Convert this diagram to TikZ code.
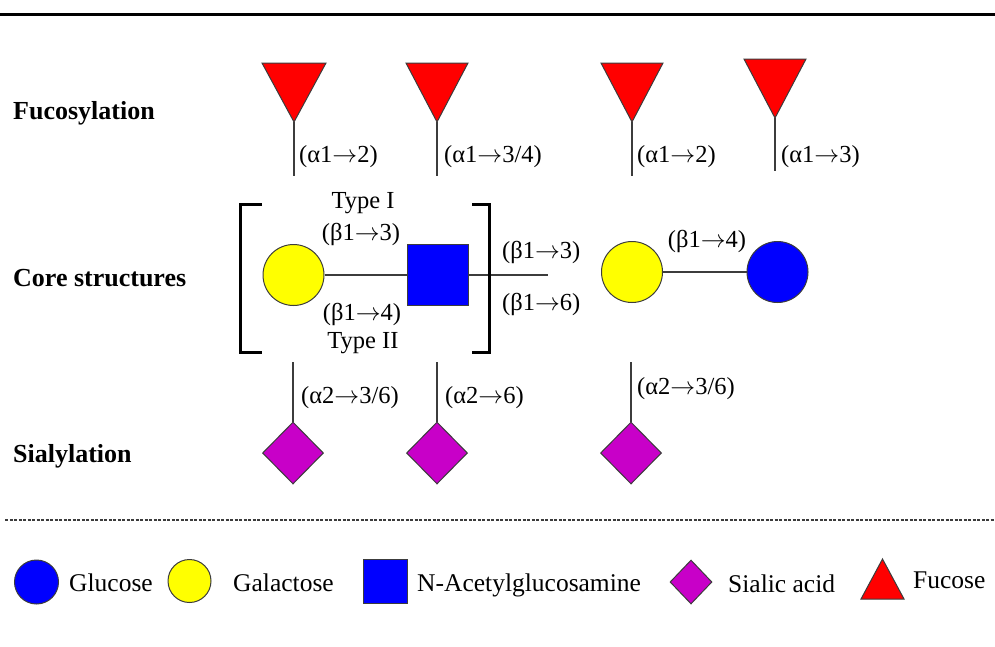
\documentclass[tikz,border=0pt]{standalone}
\usepackage{fontspec}
\setmainfont{Liberation Serif}
\usetikzlibrary{shapes.geometric}
\definecolor{fucred}{RGB}{255,0,0}
\definecolor{galyel}{RGB}{255,255,0}
\definecolor{glcblue}{RGB}{0,0,255}
\definecolor{siamag}{RGB}{200,0,200}
\definecolor{edgegray}{RGB}{60,60,60}
\newcommand{\bondarrow}{\ensuremath{\rightarrow}}
\tikzset{
  sugar/.style={draw=edgegray, line width=1pt, inner sep=0pt},
  glc/.style={sugar, circle, fill=glcblue, minimum size=61pt},
  gal/.style={sugar, circle, fill=galyel, minimum size=61pt},
  gnac/.style={sugar, rectangle, fill=glcblue, minimum size=61pt},
  sia/.style={sugar, diamond, fill=siamag, minimum width=61pt, minimum height=62pt},
  fuc/.style={draw=edgegray, line width=1pt, fill=fucred},
  bond/.style={draw=edgegray, line width=1.4pt},
  brk/.style={draw=black, line width=3pt},
  lbl/.style={inner sep=0pt, font=\fontsize{24.5}{28}\selectfont},
  typelbl/.style={inner sep=0pt, anchor=base, font=\fontsize{24.5}{28}\selectfont},
  rowlbl/.style={inner sep=0pt, anchor=base west, font=\fontsize{26}{30}\selectfont\bfseries},
  leglbl/.style={inner sep=0pt, anchor=base west, font=\fontsize{25.5}{30}\selectfont},
}
\begin{document}
\begin{tikzpicture}[x=1pt,y=-1pt]
\useasboundingbox (0,0) rectangle (995,646);
% top rule and dashed separator
\draw[line width=3pt] (0,14) -- (995,14);
\draw[line width=1.2pt, draw=edgegray, dash pattern=on 3pt off 1.5pt] (5,520) -- (995,520);

% row labels
\node[rowlbl] (rfuc) at (13,119) {Fucosylation};
\node[rowlbl] (rcore) at (13,286) {Core structures};
\node[rowlbl] (rsia) at (13,462) {Sialylation};

% fucose triangles
\coordinate (ft1) at (294,122); \coordinate (fe1) at (294,176);
\coordinate (ft2) at (437,122); \coordinate (fe2) at (437,176);
\coordinate (ft3) at (632,122); \coordinate (fe3) at (632,176);
\coordinate (ft4) at (775,118); \coordinate (fe4) at (775,171);
\path[fuc] (262,63) -- (326,63) -- (ft1) -- cycle;
\path[fuc] (406,63) -- (468,63) -- (ft2) -- cycle;
\path[fuc] (601,63) -- (663,63) -- (ft3) -- cycle;
\path[fuc] (744,59) -- (806,59) -- (ft4) -- cycle;
\draw[bond] (ft1) -- (fe1);
\draw[bond] (ft2) -- (fe2);
\draw[bond] (ft3) -- (fe3);
\draw[bond] (ft4) -- (fe4);
\node[lbl, anchor=base west] (lf1) at (299,162) {(α1\bondarrow2)};
\node[lbl, anchor=base west] (lf2) at (444,162) {(α1\bondarrow3/4)};
\node[lbl, anchor=base west] (lf3) at (637,162) {(α1\bondarrow2)};
\node[lbl, anchor=base west] (lf4) at (781,162) {(α1\bondarrow3)};

% core structures
\node[gal] (gal1) at (293.5,275) {};
\node[gnac] (gn1) at (437.5,275) {};
\coordinate (cend) at (548,275);
\draw[bond] (gal1) -- (gn1);
\draw[bond] (gn1.east) -- (cend);
\draw[brk] (262,204) -- (240,204) -- (240,352) -- (262,352);
\draw[brk] (472,204) -- (489,204) -- (489,352) -- (472,352);
\node[typelbl] (t1) at (363,208) {Type I};
\node[lbl, anchor=base] (b13) at (361,240) {(β1\bondarrow3)};
\node[lbl, anchor=base] (b14) at (362,320) {(β1\bondarrow4)};
\node[typelbl] (t2) at (363,348) {Type II};
\node[lbl, anchor=base west] (r13) at (502,258) {(β1\bondarrow3)};
\node[lbl, anchor=base west] (r16) at (502,310) {(β1\bondarrow6)};

\node[gal] (gal2) at (632,272) {};
\node[glc] (glc2) at (777.5,272) {};
\draw[bond] (gal2) -- (glc2);
\node[lbl, anchor=base] (lac) at (707,247) {(β1\bondarrow4)};

% sialylation
\coordinate (st1) at (293,362);
\coordinate (st2) at (437,362);
\coordinate (st3) at (631,362);
\node[sia] (sia1) at (293,453) {};
\node[sia] (sia2) at (437,453) {};
\node[sia] (sia3) at (631,453) {};
\draw[bond] (st1) -- (sia1.north);
\draw[bond] (st2) -- (sia2.north);
\draw[bond] (st3) -- (sia3.north);
\node[lbl, anchor=base west] (ls1) at (301,403) {(α2\bondarrow3/6)};
\node[lbl, anchor=base west] (ls2) at (445,403) {(α2\bondarrow6)};
\node[lbl, anchor=base west] (ls3) at (637,394) {(α2\bondarrow3/6)};

% legend
\node[sugar, circle, fill=glcblue, minimum size=44pt] (kglc) at (36.5,582) {};
\node[leglbl] (kglct) at (69,591) {Glucose};
\node[sugar, circle, fill=galyel, minimum size=43pt] (kgal) at (189.5,581) {};
\node[leglbl] (kgalt) at (233,591) {Galactose};
\node[sugar, rectangle, fill=glcblue, minimum size=44pt] (kgn) at (385.5,581.5) {};
\node[leglbl] (kgnt) at (417,591) {N-Acetylglucosamine};
\node[sugar, diamond, fill=siamag, minimum width=42pt, minimum height=44pt] (ksia) at (691,582) {};
\node[leglbl] (ksiat) at (728,592) {Sialic acid};
\path[fuc] (861,599) -- (904,599) -- (882.5,559) -- cycle;
\node[leglbl] (kfuct) at (913,588) {Fucose};
\end{tikzpicture}
\end{document}
